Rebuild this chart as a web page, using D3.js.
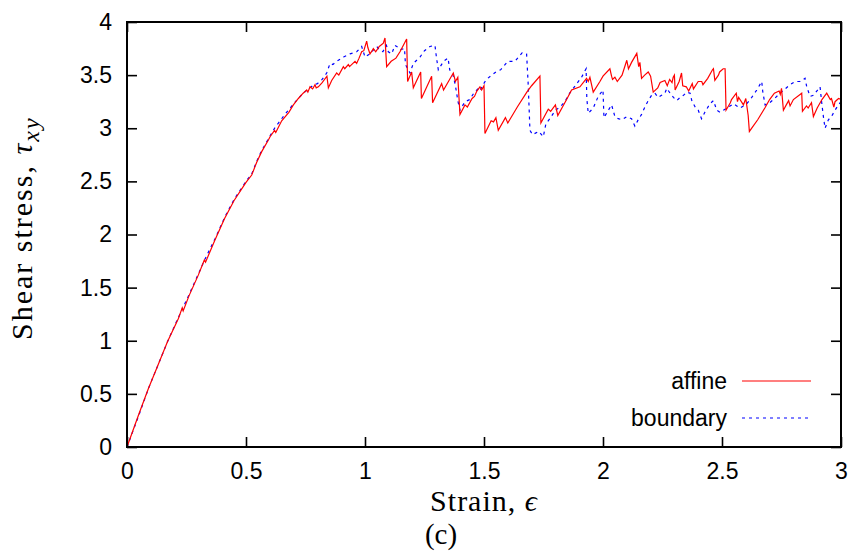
<!DOCTYPE html>
<html>
<head>
<meta charset="utf-8">
<script src="https://cdn.jsdelivr.net/npm/d3@7"></script>
<style>
  body { margin: 0; background: #fff; }
</style>
</head>
<body>
<div id="chart"></div>
<script>
// ---------------------------------------------------------------
//  data (strain, shear stress)
// ---------------------------------------------------------------
var xTicks = [0, 0.5, 1, 1.5, 2, 2.5, 3]
var yTicks = [0, 0.5, 1, 1.5, 2, 2.5, 3, 3.5, 4]
var seriesNames = ["affine", "boundary"]

var affine = [[0,0],[0.05,0.31],[0.09,0.55],[0.13,0.77],[0.17,0.99],[0.216,1.21],[0.232,1.31],[0.236,1.28],
  [0.26,1.42],[0.30,1.62],[0.325,1.76],[0.33,1.74],[0.37,1.95],[0.41,2.15],[0.45,2.32],[0.50,2.49],
  [0.524,2.56],[0.545,2.68],[0.566,2.78],[0.594,2.89],[0.601,2.92],[0.62,2.98],[0.625,2.96],[0.65,3.07],
  [0.68,3.15],[0.699,3.22],[0.72,3.28],[0.74,3.33],[0.755,3.36],[0.76,3.34],[0.769,3.39],[0.78,3.37],
  [0.79,3.41],[0.795,3.38],[0.804,3.39],[0.82,3.43],[0.84,3.49],[0.846,3.38],[0.86,3.45],[0.881,3.52],
  [0.89,3.50],[0.909,3.58],[0.915,3.56],[0.93,3.60],[0.935,3.58],[0.958,3.63],[0.965,3.61],[0.975,3.66],
  [0.986,3.72],[0.995,3.73],[1.007,3.82],[1.012,3.76],[1.021,3.70],[1.03,3.73],[1.035,3.75],[1.045,3.72],
  [1.06,3.77],[1.077,3.80],[1.084,3.85],[1.091,3.58],[1.11,3.63],[1.13,3.66],[1.147,3.72],[1.175,3.84],
  [1.179,3.44],[1.196,3.53],[1.203,3.38],[1.234,3.53],[1.237,3.28],[1.28,3.49],[1.284,3.24],[1.322,3.42],
  [1.33,3.36],[1.371,3.52],[1.38,3.44],[1.39,3.48],[1.399,3.13],[1.42,3.22],[1.43,3.20],[1.45,3.28],
  [1.46,3.30],[1.47,3.35],[1.483,3.39],[1.49,3.36],[1.50,3.40],[1.504,2.95],[1.53,3.07],[1.54,3.06],
  [1.55,3.10],[1.56,2.98],[1.59,3.10],[1.60,3.05],[1.64,3.20],[1.68,3.34],[1.70,3.40],[1.735,3.49],
  [1.739,3.05],[1.77,3.18],[1.78,3.16],[1.80,3.22],[1.81,3.12],[1.847,3.27],[1.868,3.36],[1.903,3.39],
  [1.931,3.47],[1.938,3.44],[1.945,3.48],[1.959,3.34],[1.987,3.44],[2.0,3.49],[2.029,3.56],[2.036,3.49],
  [2.04,3.46],[2.05,3.48],[2.06,3.44],[2.08,3.50],[2.10,3.64],[2.107,3.56],[2.12,3.62],[2.142,3.705],
  [2.15,3.58],[2.155,3.62],[2.162,3.47],[2.175,3.50],[2.19,3.53],[2.20,3.49],[2.211,3.34],[2.23,3.38],
  [2.24,3.43],[2.26,3.45],[2.27,3.40],[2.28,3.46],[2.29,3.43],[2.295,3.48],[2.30,3.50],[2.303,3.36],
  [2.32,3.44],[2.33,3.52],[2.335,3.40],[2.35,3.39],[2.36,3.35],[2.375,3.42],[2.38,3.37],[2.40,3.44],
  [2.415,3.44],[2.42,3.41],[2.44,3.47],[2.46,3.55],[2.464,3.56],[2.47,3.45],[2.485,3.50],[2.49,3.53],
  [2.505,3.56],[2.513,3.56],[2.517,3.17],[2.535,3.24],[2.54,3.27],[2.56,3.33],[2.565,3.25],[2.57,3.29],
  [2.59,3.22],[2.60,3.28],[2.61,3.12],[2.615,2.97],[2.65,3.08],[2.68,3.19],[2.70,3.27],[2.72,3.33],
  [2.74,3.35],[2.745,3.32],[2.75,3.375],[2.758,3.17],[2.77,3.22],[2.78,3.26],[2.786,3.21],[2.80,3.27],
  [2.835,3.33],[2.838,3.16],[2.855,3.21],[2.862,3.19],[2.876,3.24],[2.884,3.11],[2.90,3.19],[2.92,3.27],
  [2.94,3.33],[2.955,3.27],[2.96,3.28],[2.97,3.20],[2.975,3.25],[2.985,3.27],[2.99,3.28],[3.0,3.27]]

var boundary = [[0,0],[0.05,0.30],[0.09,0.55],[0.13,0.77],[0.17,0.99],[0.216,1.22],[0.237,1.32],[0.26,1.43],
  [0.30,1.63],[0.328,1.77],[0.37,1.96],[0.41,2.16],[0.45,2.33],[0.50,2.50],[0.524,2.57],[0.545,2.69],
  [0.566,2.79],[0.594,2.90],[0.62,3.0],[0.66,3.12],[0.70,3.23],[0.74,3.33],[0.78,3.40],[0.80,3.42],
  [0.82,3.46],[0.839,3.52],[0.853,3.61],[0.865,3.60],[0.881,3.63],[0.91,3.67],[0.937,3.70],[0.965,3.72],
  [0.986,3.77],[1.0,3.67],[1.02,3.70],[1.049,3.77],[1.06,3.74],[1.075,3.72],[1.09,3.78],[1.098,3.72],
  [1.112,3.70],[1.126,3.78],[1.14,3.76],[1.147,3.74],[1.166,3.75],[1.17,3.60],[1.189,3.52],[1.203,3.61],
  [1.231,3.67],[1.25,3.73],[1.273,3.77],[1.294,3.78],[1.30,3.67],[1.308,3.55],[1.33,3.63],[1.349,3.66],
  [1.356,3.55],[1.37,3.50],[1.38,3.40],[1.39,3.26],[1.399,3.17],[1.42,3.25],[1.44,3.27],[1.46,3.34],
  [1.475,3.37],[1.483,3.35],[1.496,3.41],[1.51,3.46],[1.55,3.53],[1.57,3.55],[1.60,3.63],[1.63,3.63],
  [1.66,3.71],[1.679,3.70],[1.686,3.40],[1.693,2.98],[1.704,2.94],[1.73,2.97],[1.749,2.92],[1.76,3.04],
  [1.78,3.10],[1.80,3.17],[1.82,3.20],[1.84,3.25],[1.86,3.33],[1.89,3.42],[1.91,3.48],[1.929,3.56],
  [1.932,3.28],[1.938,3.14],[1.959,3.19],[1.98,3.30],[2.0,3.36],[2.004,3.10],[2.02,3.16],[2.036,3.22],
  [2.05,3.11],[2.064,3.09],[2.08,3.08],[2.1,3.11],[2.12,3.09],[2.134,3.02],[2.148,3.08],[2.162,3.13],
  [2.176,3.20],[2.19,3.26],[2.204,3.31],[2.218,3.33],[2.232,3.29],[2.246,3.31],[2.26,3.33],[2.268,3.375],
  [2.282,3.33],[2.296,3.29],[2.31,3.26],[2.324,3.29],[2.338,3.31],[2.352,3.34],[2.366,3.33],[2.373,3.26],
  [2.387,3.20],[2.40,3.17],[2.414,3.09],[2.428,3.15],[2.449,3.23],[2.464,3.26],[2.478,3.17],[2.492,3.15],
  [2.506,3.17],[2.52,3.19],[2.534,3.21],[2.548,3.23],[2.562,3.21],[2.576,3.19],[2.59,3.21],[2.604,3.23],
  [2.625,3.29],[2.646,3.36],[2.667,3.44],[2.671,3.35],[2.681,3.22],[2.695,3.23],[2.716,3.27],[2.744,3.33],
  [2.765,3.37],[2.786,3.41],[2.807,3.44],[2.828,3.44],[2.849,3.47],[2.856,3.39],[2.87,3.30],[2.884,3.31],
  [2.898,3.35],[2.912,3.39],[2.919,3.24],[2.926,3.11],[2.933,3.00],[2.947,3.08],[2.96,3.11],[2.975,3.17],
  [2.989,3.22],[3.0,3.25]]

// ---------------------------------------------------------------
//  page + plot box
// ---------------------------------------------------------------
var width = 853
var height = 555
var plotLeft = 127, plotRight = 841, plotTop = 22, plotBottom = 447
var tickLen = 10
var sansFont = "'Liberation Sans', Arial, sans-serif"
var serifFont = "'Liberation Serif', 'Times New Roman', serif"

var svg = d3.select("#chart")
  .append("svg")
    .attr("width", width)
    .attr("height", height)

var x = d3.scaleLinear().domain([0, 3]).range([plotLeft, plotRight])
var y = d3.scaleLinear().domain([0, 4]).range([plotBottom, plotTop])

// ticks point inwards on all four sides, labels only bottom + left
var fmt = d3.format("~g")

var gLeft = svg.append("g")
  .attr("transform", "translate(" + plotLeft + ",0)")
  .call(d3.axisLeft(y).tickValues(yTicks).tickFormat(fmt).tickSizeInner(-tickLen).tickSizeOuter(0).tickPadding(15))
var gBottom = svg.append("g")
  .attr("transform", "translate(0," + plotBottom + ")")
  .call(d3.axisBottom(x).tickValues(xTicks).tickFormat(fmt).tickSizeInner(-tickLen).tickSizeOuter(0).tickPadding(16))
var gRight = svg.append("g")
  .attr("transform", "translate(" + plotRight + ",0)")
  .call(d3.axisRight(y).tickValues(yTicks).tickFormat("").tickSizeInner(-tickLen).tickSizeOuter(0))
var gTop = svg.append("g")
  .attr("transform", "translate(0," + plotTop + ")")
  .call(d3.axisTop(x).tickValues(xTicks).tickFormat("").tickSizeInner(-tickLen).tickSizeOuter(0))

;[gLeft, gBottom, gRight, gTop].forEach(function(g) {
  g.select(".domain").remove()
  g.selectAll(".tick line").attr("stroke", "#000").attr("stroke-width", 1.6)
  g.selectAll(".tick text")
    .attr("fill", "#000")
    .style("font-family", sansFont)
    .style("font-size", "23px")
})

// ---------------------------------------------------------------
//  curves
// ---------------------------------------------------------------
var line = d3.line()
  .x(function(d) { return x(d[0]) })
  .y(function(d) { return y(d[1]) })

svg.append("path")
  .datum(boundary)
  .attr("fill", "none")
  .attr("stroke", "#0000ff")
  .attr("stroke-width", 1.2)
  .attr("stroke-dasharray", "3,4")
  .attr("d", line)

svg.append("path")
  .datum(affine)
  .attr("fill", "none")
  .attr("stroke", "#ff0000")
  .attr("stroke-width", 1.2)
  .attr("d", line)

// frame on top
svg.append("rect")
  .attr("x", plotLeft)
  .attr("y", plotTop)
  .attr("width", plotRight - plotLeft)
  .attr("height", plotBottom - plotTop)
  .attr("fill", "none")
  .attr("stroke", "#000")
  .attr("stroke-width", 2)

// ---------------------------------------------------------------
//  legend
// ---------------------------------------------------------------
var legendRows = [
  {name: seriesNames[0], color: "#ff0000", dash: null, y: 381},
  {name: seriesNames[1], color: "#0000ff", dash: "3,4", y: 418}
]
var legend = svg.append("g")
legendRows.forEach(function(r) {
  legend.append("text")
    .attr("x", 727)
    .attr("y", r.y)
    .attr("dy", "0.35em")
    .attr("text-anchor", "end")
    .style("font-family", sansFont)
    .style("font-size", "23px")
    .text(r.name)
  legend.append("line")
    .attr("x1", 742).attr("x2", 811)
    .attr("y1", r.y).attr("y2", r.y)
    .attr("stroke", r.color)
    .attr("stroke-width", 1.2)
    .attr("stroke-dasharray", r.dash)
})

// ---------------------------------------------------------------
//  axis titles
// ---------------------------------------------------------------
var xTitle = svg.append("text")
  .attr("x", (plotLeft + plotRight) / 2)
  .attr("y", 511)
  .attr("text-anchor", "middle")
  .style("font-family", serifFont)
  .style("font-size", "30px")
  .style("letter-spacing", "1px")
xTitle.append("tspan").text("Strain, ")
xTitle.append("tspan").style("font-style", "italic").text("ϵ")

svg.append("text")
  .attr("x", 441)
  .attr("y", 544)
  .attr("text-anchor", "middle")
  .style("font-family", serifFont)
  .style("font-size", "29px")
  .text("(c)")

var yTitle = svg.append("text")
  .attr("transform", "translate(32,340) rotate(-90)")
  .attr("text-anchor", "start")
  .style("font-family", serifFont)
  .style("font-size", "30px")
  .style("letter-spacing", "2px")
yTitle.append("tspan").text("Shear stress, ")
yTitle.append("tspan").style("font-style", "italic").text("τ")
yTitle.append("tspan").style("font-style", "italic").style("font-size", "24px").attr("dy", 7).text("xy")
</script>
</body>
</html>
